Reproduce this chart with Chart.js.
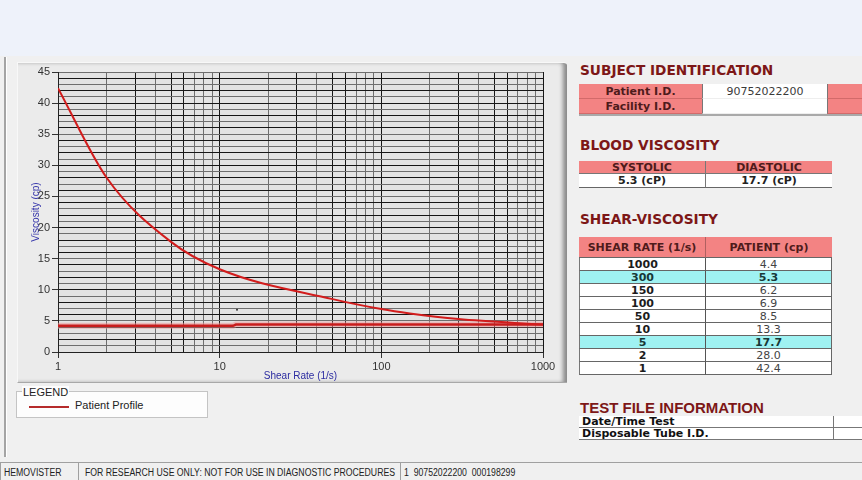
<!DOCTYPE html>
<html>
<head>
<meta charset="utf-8">
<script src="https://cdn.jsdelivr.net/npm/chart.js@4.4.1/dist/chart.umd.min.js"></script>
<style>
body { margin: 0; width: 862px; height: 480px; overflow: hidden; background: #f0f0f0; position: relative; font-family: "Liberation Sans", Arial, sans-serif; }
.abs { position: absolute; box-sizing: border-box; }
#topband { left: 0; top: 0; width: 862px; height: 56px; background: #eef2fa; }
#leftbar { left: 4px; top: 57px; width: 3px; height: 400px; background: #a4a4a4; border-right: 1px solid #fff; }
#chartPanel { left: 17px; top: 62px; width: 550px; height: 321px; background: #ebebeb; border-top: 1px solid #f8f8f8; border-left: 1px solid #f8f8f8; border-bottom: 1px solid #a8a8a8; box-shadow: inset -5px 0 4px -1px #8a8a8a; border-top-right-radius: 3px; }
#chart { position: absolute; left: 17px; top: 62px; }
.h { color: #7d1717; font: bold 13.7px "DejaVu Sans", Verdana, sans-serif; white-space: nowrap; line-height: 16px; }
.h2 { color: #7d1717; font: bold 15px "Liberation Sans", Arial, sans-serif; white-space: nowrap; line-height: 18px; }
.cell { font: 11px "DejaVu Sans", Verdana, sans-serif; text-align: center; white-space: nowrap; overflow: hidden; }
.salmon { background: #f38383; color: #4e1b1b; font-weight: bold; }
.white { background: #fff; color: #3a3a3a; }
.cyan { background: #9ff2f2; }
#legendBox { left: 16px; top: 391px; width: 192px; height: 27px; background: #fdfdfd; border: 1px solid #c4c4c4; }
#legendTitle { left: 22px; top: 386px; padding: 0 1px; background: #fdfdfd; font: 11px "Liberation Sans", Arial, sans-serif; color: #222; line-height: 12px; }
#legendLine { left: 29px; top: 406px; width: 40px; height: 2px; background: #b52a2a; }
#legendText { left: 75px; top: 399px; font: 11px "Liberation Sans", Arial, sans-serif; color: #222; line-height: 13px; }
.status { top: 462px; height: 18px; border-top: 1px solid #a0a0a0; border-left: 1px solid #a0a0a0; font: 10px "Liberation Sans", Arial, sans-serif; color: #222; line-height: 20px; white-space: pre; }
.status span { display: inline-block; transform: scaleX(0.87); transform-origin: 0 50%; }
</style>
</head>
<body>
<div id="topband" class="abs"></div>
<div id="leftbar" class="abs"></div>
<div id="chartPanel" class="abs"></div>
<canvas id="chart" width="550" height="320"></canvas>
<div id="legendBox" class="abs"></div>
<div id="legendTitle" class="abs">LEGEND</div>
<div id="legendLine" class="abs"></div>
<div id="legendText" class="abs"></div>
<div id="side"></div>
<script>
// shear-viscosity table, in the order it is listed
const tableRates = [1000, 300, 150, 100, 50, 10, 5, 2, 1];
const tableVisc = [4.4, 5.3, 6.2, 6.9, 8.5, 13.3, 17.7, 28.0, 42.4];
const highlightRates = [300, 5];

// flat red line along the bottom of the plot
const baseRates = [1, 12.1, 12.6, 1000];
const baseVisc = [4.2, 4.2, 4.4, 4.4];

// stray dot inside the plot
const dotRates = [12.8];
const dotVisc = [6.8];

const xGridValues = [1, 2, 3, 4, 5, 6, 7, 8, 9, 10, 20, 30, 40, 50, 60, 70, 80, 90,
    100, 200, 300, 400, 500, 600, 700, 800, 900, 1000];
const xTickLabels = [1, 10, 100, 1000];
const yTickLabels = [0, 5, 10, 15, 20, 25, 30, 35, 40, 45];

const subjectLabels = ['Patient I.D.', 'Facility I.D.'];
const subjectValues = ['90752022200', ''];
const bloodLabels = ['SYSTOLIC', 'DIASTOLIC'];
const bloodValues = ['5.3 (cP)', '17.7 (cP)'];
const shearHeaders = ['SHEAR RATE (1/s)', 'PATIENT (cp)'];
const testFileLabels = ['Date/Time Test', 'Disposable Tube I.D.'];
const statusTexts = ['HEMOVISTER', 'FOR RESEARCH USE ONLY: NOT FOR USE IN DIAGNOSTIC PROCEDURES', '1  90752022200  000198299'];
const seriesName = 'Patient Profile';

const side = document.getElementById('side');

function box(cls, x, y, w, h, text, css) {
    const d = document.createElement('div');
    d.className = 'abs ' + cls;
    d.style.left = x + 'px';
    d.style.top = y + 'px';
    if (w != null) d.style.width = w + 'px';
    if (h != null) { d.style.height = h + 'px'; d.style.lineHeight = h + 'px'; }
    if (text != null) d.textContent = text;
    if (css) Object.assign(d.style, css);
    side.appendChild(d);
    return d;
}

// right hand panel
box('h', 580, 62, null, null, 'SUBJECT IDENTIFICATION');
subjectLabels.forEach((lab, i) => {
    const y = 84 + i * 15;
    box('cell salmon', 579, y, 123, 15, lab, { borderBottom: '1px solid #d26a6a' });
    box('cell white', 702, y, 125, 15, subjectValues[i], { borderLeft: '1px solid #777', borderBottom: '1px solid #eee' });
    box('cell salmon', 827, y, 35, 15, '', { borderLeft: '1px solid #777', borderBottom: '1px solid #d26a6a' });
});
box('', 579, 114, 283, 2, null, { background: '#a9a9a9' });

box('h', 580, 137, null, null, 'BLOOD VISCOSITY');
bloodLabels.forEach((lab, i) => {
    const x = 579 + i * 126;
    box('cell salmon', x, 161, i ? 127 : 126, 13, lab, { borderLeft: i ? '1px solid #777' : 'none', borderBottom: '1px solid #777', lineHeight: '14px' });
    box('cell white', x, 174, i ? 127 : 126, 14, bloodValues[i], { fontWeight: 'bold', color: '#222', borderLeft: i ? '1px solid #777' : 'none', borderBottom: '1px solid #666', lineHeight: '13px' });
});

box('h', 580, 211, null, null, 'SHEAR-VISCOSITY');
shearHeaders.forEach((lab, i) => {
    box('cell salmon', 579 + i * 126, 237, i ? 127 : 126, 21, lab, { borderLeft: i ? '1px solid #b06060' : 'none', borderBottom: '1px solid #666' });
});
tableRates.forEach((rate, i) => {
    const y = 258 + i * 13;
    const hi = highlightRates.includes(rate);
    const bg = hi ? 'cyan' : 'white';
    box('cell ' + bg, 579, y, 126, 13, String(rate), { fontWeight: 'bold', color: hi ? '#173838' : '#1c1c1c', borderLeft: '1px solid #777', borderBottom: '1px solid #666', lineHeight: '13px' });
    box('cell ' + bg, 705, y, 127, 13, tableVisc[i].toFixed(1), { fontWeight: hi ? 'bold' : 'normal', color: hi ? '#173838' : '#444', borderLeft: '1px solid #555', borderRight: '1px solid #666', borderBottom: '1px solid #666', lineHeight: '13px' });
});

box('h2', 580, 399, null, null, 'TEST FILE INFORMATION');
testFileLabels.forEach((lab, i) => {
    const y = 416 + i * 12;
    box('cell white', 579, y, 254, 12, lab, { textAlign: 'left', paddingLeft: '3px', fontWeight: 'bold', color: '#111', borderBottom: '1px solid #777', lineHeight: '12px' });
    box('cell white', 833, y, 29, 12, '', { borderLeft: '1px solid #777', borderBottom: '1px solid #777' });
});

// status bar
const statusCells = [[0, 78, 3], [78, 322, 6], [400, 462, 3]];
statusTexts.forEach((t, i) => {
    const [x, w, pad] = statusCells[i];
    const d = box('status', x, 462, w, null, null, { paddingLeft: pad + 'px' });
    const s = document.createElement('span');
    s.textContent = t;
    d.appendChild(s);
});

document.getElementById('legendText').textContent = seriesName;

// chart
const curve = tableRates.map((r, i) => ({ x: r, y: tableVisc[i] })).reverse();
const baseLine = baseRates.map((r, i) => ({ x: r, y: baseVisc[i] }));
const dots = dotRates.map((r, i) => ({ x: r, y: dotVisc[i] }));

const plotBg = {
    id: 'plotBg',
    beforeDraw(chart) {
        const { ctx, chartArea: a } = chart;
        ctx.save();
        ctx.fillStyle = '#e3e3e3';
        ctx.fillRect(a.left, a.top, a.width, a.height);
        ctx.restore();
    }
};

function xLineColor(ctx) {
    const v = ctx.tick ? ctx.tick.value : 1;
    const s = Math.round(v / Math.pow(10, Math.floor(Math.log10(v) + 1e-9)));
    return [1, 3, 5, 6].includes(s) ? '#161616' : '#6e6e6e';
}

new Chart(document.getElementById('chart'), {
    type: 'line',
    data: {
        datasets: [
            {
                label: seriesName,
                data: curve,
                borderColor: '#d21c1c',
                borderWidth: 2,
                pointRadius: 0,
                cubicInterpolationMode: 'monotone',
                order: 1
            },
            {
                label: 'base halo',
                data: baseLine,
                borderColor: 'rgba(236, 150, 150, 0.55)',
                borderWidth: 6,
                pointRadius: 0,
                tension: 0,
                order: 3
            },
            {
                label: 'base',
                data: baseLine,
                borderColor: '#c81c1c',
                borderWidth: 2.5,
                pointRadius: 0,
                tension: 0,
                order: 2
            },
            {
                label: 'dot',
                data: dots,
                showLine: false,
                pointRadius: 1,
                pointBorderWidth: 0,
                pointBackgroundColor: '#333',
                order: 0
            }
        ]
    },
    options: {
        responsive: false,
        animation: false,
        events: [],
        layout: { padding: { left: 0, top: 10, right: 24, bottom: 0 } },
        plugins: { legend: { display: false }, tooltip: { enabled: false } },
        scales: {
            x: {
                type: 'logarithmic',
                min: 1,
                max: 1000,
                afterFit(scale) { scale.height = 30; },
                afterBuildTicks(scale) { scale.ticks = xGridValues.map(v => ({ value: v })); },
                ticks: {
                    autoSkip: false,
                    maxRotation: 0,
                    padding: 2,
                    color: '#333',
                    font: { family: 'Liberation Sans', size: 11 },
                    callback: v => xTickLabels.includes(v) ? String(v) : ''
                },
                grid: {
                    color: xLineColor,
                    lineWidth: 1,
                    tickLength: 6,
                    tickColor: ctx => ctx.tick && xTickLabels.includes(ctx.tick.value) ? '#333' : 'rgba(0,0,0,0)'
                },
                border: { display: true, color: '#222', width: 1 },
                title: {
                    display: true,
                    text: 'Shear Rate (1/s)',
                    color: '#2b2ba0',
                    font: { family: 'Liberation Sans', size: 10 },
                    padding: { top: 0, bottom: 0 }
                }
            },
            y: {
                min: 0,
                max: 45,
                afterFit(scale) { scale.width = 41; },
                ticks: {
                    stepSize: 1,
                    maxTicksLimit: 100,
                    autoSkip: false,
                    padding: 2,
                    color: '#333',
                    font: { family: 'Liberation Sans', size: 11 },
                    callback: v => yTickLabels.includes(v) ? String(v) : ''
                },
                grid: {
                    color: ctx => ctx.tick && ctx.tick.value % 2 === 0 ? '#161616' : '#6e6e6e',
                    lineWidth: 1,
                    tickLength: 6,
                    tickColor: ctx => ctx.tick && yTickLabels.includes(ctx.tick.value) ? '#333' : 'rgba(0,0,0,0)'
                },
                border: { display: true, color: '#222', width: 1 },
                title: {
                    display: true,
                    text: 'Viscosity (cp)',
                    color: '#3535aa',
                    font: { family: 'Liberation Sans', size: 10 },
                    padding: { top: 13, bottom: 0 }
                }
            }
        }
    },
    plugins: [plotBg]
});
</script>
</body>
</html>
